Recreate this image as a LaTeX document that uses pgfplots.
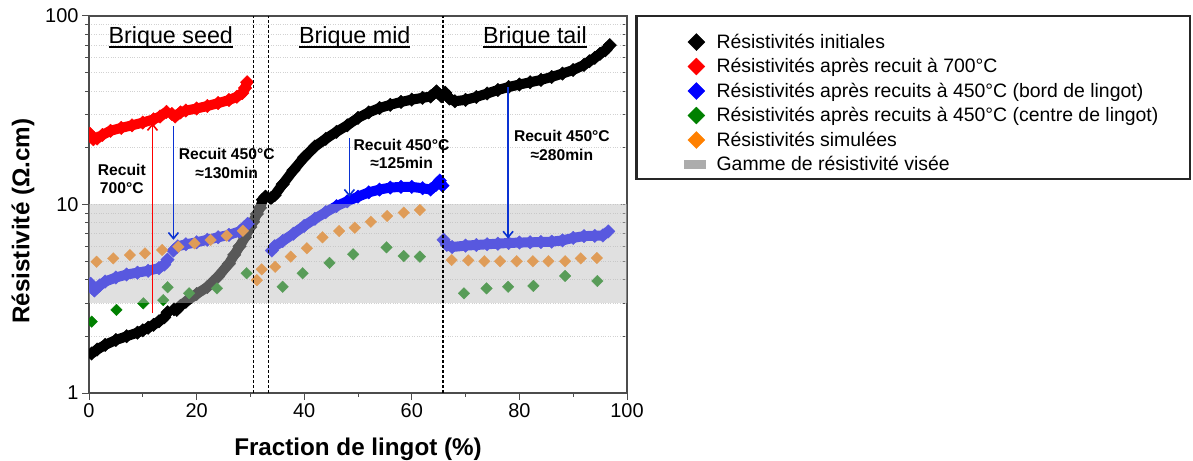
\documentclass[border=0pt]{standalone}
\usepackage{pgfplots}
\pgfplotsset{compat=1.18}
\usepackage{fontspec}
\setmainfont{Liberation Sans}
\usetikzlibrary{arrows.meta}
\definecolor{myorange}{RGB}{255,128,0}
\definecolor{mygreen}{RGB}{0,128,0}
\definecolor{myred}{RGB}{255,0,0}
\definecolor{myblue}{RGB}{0,0,255}
\definecolor{arrowblue}{RGB}{10,50,210}
\definecolor{bandgray}{RGB}{189,189,189}
\newcommand\ul[1]{\setbox0\hbox{#1}\rlap{\rule[-4.5bp]{\wd0}{1.7bp}}\box0}
\pgfplotsset{
  curve/.style={line width=10bp, line join=round, mark=square*, mark size=4.8bp,
     mark options={rotate=45, line width=0.3bp, solid}, forget plot},
  dots/.style={only marks, mark=square*, mark size=4.1bp,
     mark options={rotate=45, line width=0.3bp}, forget plot},
  vline/.style={black, line width=1.1bp, dash pattern=on 3bp off 2bp, forget plot},
}
\begin{document}
\begin{tikzpicture}
\useasboundingbox (0,0) rectangle (1193bp,461bp);
% right-side inner ticks
\begin{axis}[
  at={(89bp,68bp)}, anchor=south west,
  width=538bp, height=377bp, scale only axis,
  xmin=0, xmax=100, ymin=1, ymax=100, ymode=log,
  hide x axis, axis y line*=right,
  ytick={1,10,100}, yticklabels={},
  tick align=inside, major tick length=7bp, minor tick length=4bp,
  axis line style={line width=1.5bp, black!70},
  every tick/.style={black!70, line width=1bp},
]
\end{axis}
\begin{axis}[
  at={(89bp,68bp)}, anchor=south west,
  width=538bp, height=377bp, scale only axis,
  xmin=0, xmax=100, ymin=1, ymax=100, ymode=log,
  clip marker paths=true,
  xtick={0,20,...,100}, minor x tick num=1,
  ytick={1,10,100}, yticklabels={1,10,100},
  xtick pos=bottom, ytick pos=left,
  tick align=outside, major tick length=7bp, minor tick length=4bp,
  every tick/.style={black!70, line width=1bp},
  axis line style={line width=1.5bp, black!70},
  ymajorgrids, yminorgrids,
  major grid style={gray!35, dotted, line width=0.8bp},
  minor grid style={gray!35, dotted, line width=0.8bp},
  /pgf/number format/assume math mode=true,
  tick label style={font=\fontsize{20}{24}\selectfont},
  xlabel={\bfseries Fraction de lingot (\%)},
  ylabel={\bfseries Résistivité (Ω.cm)},
  label style={font=\fontsize{24.3}{28}\selectfont},
  xlabel style={at={(axis description cs:0.5,-0.167)}, anchor=base},
  ylabel style={at={(axis description cs:-0.1227,0.456)}, anchor=center},
  legend style={draw=none, fill=none, at={(rel axis cs:1,1)}, anchor=north west,
     xshift=57bp, yshift=-16bp, font=\fontsize{19.5}{22}\selectfont,
     inner sep=0pt, row sep=4.7bp, column sep=9bp},
  legend cell align=left,
]
% ---- initial resistivities (black)
\addplot[curve, black] coordinates {(0.5,1.62)(1.5,1.70)(3,1.80)(5,1.91)(7,2.00)(9,2.09)(10,2.15)(11,2.22)(12,2.30)(13,2.40)(14,2.52)(14.6,2.68)};
\addplot[curve, black] coordinates {(15.8,2.78)(16.3,2.76)(17,2.90)(18,3.05)(20,3.35)(22,3.65)(24,4.15)(26,4.85)(27,5.4)(28,6.0)(29,6.7)(30,7.6)(30.5,8.1)(31.2,8.9)(31.8,9.6)(32.3,10.6)(32.8,11.0)};
\addplot[curve, black] coordinates {(33.8,10.8)(34.5,11.2)(36,12.8)(38,15.2)(40,17.8)(42,20.3)(44,22.3)(46,24.3)(48,26.3)(50,28.8)(52,30.8)(54,32.5)(56,33.8)(58,35.0)(60,36.0)(62,36.8)(63.5,37.4)(64.6,39.8)(65.5,37.5)};
\addplot[curve, black] coordinates {(66.2,39.2)(67,36.5)(68,35.3)(70,35.9)(72,37.2)(74,38.8)(76,40.5)(78,42.0)(80,43.3)(82,44.5)(84,45.8)(86,47.5)(88,49.5)(90,51.7)(92,55)(93,57.5)(94,60)(95,63)(96,66)(96.8,70)};
% ---- after 700C (red)
\addplot[curve, myred] coordinates {(0.2,23.7)(0.8,22.2)(1.5,22.4)(2.5,23.4)(4,24.6)(6,25.5)(8,26.3)(10,27.2)(12,28.3)(13.2,29.3)(14.4,31.0)};
\addplot[curve, myred] coordinates {(15.4,30.2)(16,29.3)(17,30.8)(18,31.5)(20,32.3)(22,33.3)(24,34.5)(26,35.8)(27.5,37.3)(28.5,39.0)(29,41.5)(29.4,44.5)};
% ---- after 450C, edge (blue)
\addplot[curve, myblue] coordinates {(0.3,3.8)(1,3.5)(2,3.72)(3,3.9)(5,4.1)(7,4.25)(9,4.35)(11,4.45)(13,4.6)(14,4.8)(14.6,5.1)};
\addplot[curve, myblue] coordinates {(15.7,5.7)(16.5,6.0)(18,6.15)(20,6.3)(22,6.5)(24,6.7)(26,6.9)(28,7.2)(29.5,7.9)};
\addplot[curve, myblue] coordinates {(34,5.7)(34.5,6.0)(36,6.4)(38,7.0)(40,7.7)(42,8.4)(44,9.1)(46,9.8)(48,10.4)(50,11.0)(52,11.6)(54,12.0)(56,12.3)(58,12.4)(60,12.4)(62,12.2)(63.5,12.0)(64.5,12.7)(65.2,13.4)(65.7,12.6)};
\addplot[curve, myblue] coordinates {(65.9,6.5)(66.5,6.1)(67.5,5.95)(70,6.05)(72,6.1)(74,6.15)(76,6.2)(78,6.25)(80,6.28)(82,6.3)(84,6.32)(86,6.35)(88,6.45)(90,6.65)(92,6.8)(94,6.82)(95.5,6.85)(96.5,7.2)};
% ---- after 450C, centre (green)
\addplot[dots, mygreen] coordinates {(0.5,2.39)(5.1,2.76)(10.1,2.99)(13.8,3.11)(14.6,3.64)(18.6,3.38)(23.8,3.59)(29.3,4.32)(36,3.66)(39.7,4.32)(44.7,4.9)(49.1,5.44)(55.3,5.93)(58.5,5.33)(61.5,5.29)(69.7,3.38)(73.9,3.59)(77.9,3.66)(82.6,3.7)(88.5,4.18)(94.5,3.93)};
% ---- simulated (orange)
\addplot[dots, myorange] coordinates {(1.4,4.97)(4.5,5.18)(7.6,5.4)(10.4,5.5)(13.6,5.74)(16.6,5.97)(19.6,6.22)(22.6,6.48)(25.6,6.83)(28.6,7.25)(31.2,3.97)(32.1,4.53)(34.6,4.67)(37.5,5.29)(40.5,5.86)(43.4,6.7)(46.5,7.23)(49.4,7.53)(52.4,8.1)(55.4,8.69)(58.5,9.05)(61.5,9.35)(67.4,5.08)(70.5,5.05)(73.5,5.0)(76.4,5.0)(79.5,5.0)(82.5,5.0)(85.4,5.0)(88.5,5.0)(91.4,5.18)(94.4,5.2)};
% ---- target band
\addplot[draw=none, fill=bandgray, fill opacity=0.47, forget plot] coordinates {(0,3)(100,3)(100,10)(0,10)} -- cycle;
% ---- brick boundaries
\addplot[vline] coordinates {(30.5,1)(30.5,100)};
\addplot[vline] coordinates {(33.3,1)(33.3,100)};
\addplot[vline] coordinates {(65.8,1)(65.8,100)};
% ---- arrows
\draw[myred, line width=1.6bp, -{Straight Barb[length=6bp,width=10bp]}] (axis cs:11.8,2.65) -- (axis cs:11.8,27);
\draw[arrowblue, line width=1.6bp, -{Straight Barb[length=6bp,width=10bp]}] (axis cs:15.7,26) -- (axis cs:15.7,6.5);
\draw[arrowblue, line width=1.6bp, -{Straight Barb[length=6bp,width=10bp]}] (axis cs:48.4,22.5) -- (axis cs:48.4,11.0);
\draw[arrowblue, line width=1.6bp, -{Straight Barb[length=6bp,width=10bp]}] (axis cs:77.9,42) -- (axis cs:77.9,6.6);
% ---- annotations
\node[font=\bfseries\fontsize{15.7}{18.5}\selectfont, align=center] at (axis cs:6.1,13.7) {Recuit\\700°C};
\node[font=\bfseries\fontsize{15.7}{18.5}\selectfont, align=center] at (axis cs:25.6,16.5) {Recuit 450°C\\≈130min};
\node[font=\bfseries\fontsize{15.7}{18.5}\selectfont, align=center] at (axis cs:58.1,18.5) {Recuit 450°C\\≈125min};
\node[font=\bfseries\fontsize{15.7}{18.5}\selectfont, align=center] at (axis cs:87.9,20.6) {Recuit 450°C\\≈280min};
\node[font=\fontsize{23.4}{27}\selectfont, anchor=base] at (axis cs:15.2,71.9) {\ul{Brique seed}};
\node[font=\fontsize{23.4}{27}\selectfont, anchor=base] at (axis cs:49.4,71.9) {\ul{Brique mid}};
\node[font=\fontsize{23.4}{27}\selectfont, anchor=base] at (axis cs:82.9,71.9) {\ul{Brique tail}};
% ---- legend
\addlegendimage{only marks, mark=square*, mark size=6bp, mark options={rotate=45}, black}
\addlegendentry{Résistivités initiales}
\addlegendimage{only marks, mark=square*, mark size=6bp, mark options={rotate=45}, myred}
\addlegendentry{Résistivités après recuit à 700°C}
\addlegendimage{only marks, mark=square*, mark size=6bp, mark options={rotate=45}, myblue}
\addlegendentry{Résistivités après recuits à 450°C (bord de lingot)}
\addlegendimage{only marks, mark=square*, mark size=6bp, mark options={rotate=45}, mygreen}
\addlegendentry{Résistivités après recuits à 450°C (centre de lingot)}
\addlegendimage{only marks, mark=square*, mark size=6bp, mark options={rotate=45}, myorange}
\addlegendentry{Résistivités simulées}
\addlegendimage{legend image code/.code={\fill[gray!65] (-3.5bp,-4bp) rectangle (17.5bp,4bp);}}
\addlegendentry{Gamme de résistivité visée}
\end{axis}
\draw[line width=2.2bp, black!85] (636.5bp,445bp) rectangle (1190bp,281.7bp);
\end{tikzpicture}
\end{document}
